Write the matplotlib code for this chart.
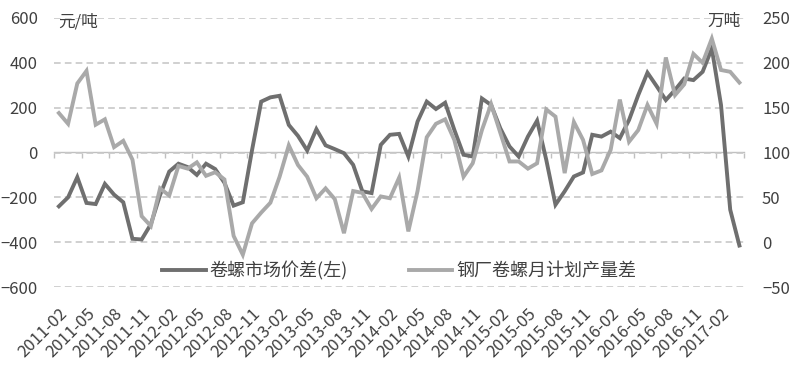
import numpy as np
import pandas as pd
import matplotlib
matplotlib.use("Agg")
import matplotlib.pyplot as plt

plt.rcParams['font.family'] = ['Noto Sans CJK SC', 'DejaVu Sans']

# monthly data, 2011-02 .. 2017-04
months = pd.date_range('2011-02', periods=75, freq='MS').strftime('%Y-%m').tolist()

# 卷螺市场价差 (元/吨, left axis)
spread = [-240, -200, -110, -225, -230, -140, -188, -222, -385, -388,
          -320, -190, -85, -50, -65, -100, -50, -74, -135, -237,
          -222, 10, 227, 246, 253, 123, 74, 9, 104, 32,
          15, -3, -55, -173, -181, 34, 79, 83, -18, 138,
          227, 194, 222, 101, -10, -18, 241, 212, 108, 27,
          -18, 71, 142, -33, -233, -173, -107, -89, 79, 71,
          93, 64, 145, 256, 356, 296, 234, 279, 330, 323,
          360, 464, 212, -255, -415]

# 钢厂卷螺月计划产量差 (万吨, right axis)
output_gap = [144, 132, 177, 191, 131, 137, 106, 113, 92, 29,
              18, 60, 52, 85, 82, 89, 74, 78, 70, 7,
              -14, 21, 33, 44, 73, 108, 86, 73, 49, 60,
              48, 10, 57, 55, 37, 51, 49, 72, 12, 57,
              117, 132, 137, 114, 73, 88, 125, 154, 122, 90,
              90, 82, 88, 148, 140, 77, 134, 114, 76, 80,
              103, 159, 112, 125, 153, 132, 206, 164, 176, 210,
              200, 227, 192, 190, 178]

left_ticks = list(range(-600, 601, 200))
right_ticks = list(range(-50, 251, 50))

dark = '#6f6f6f'
light = '#a9a9a9'
txt = '#404040'
axis_grey = '#c0c0c0'

fig = plt.figure(figsize=(7.94, 3.67), dpi=100)
ax = fig.add_axes([54.3 / 794, 1 - 287 / 367, (744 - 54.3) / 794, 269 / 367])
x = np.arange(len(months))

ax.set_xlim(-0.5, len(months) - 0.5)
ax.set_ylim(-600, 600)
ax.set_yticks(left_ticks)
ax.yaxis.grid(True, linestyle=(0, (4, 2.5)), color='#c8c8c8', linewidth=1.2)
ax.set_axisbelow(True)
for s in ax.spines.values():
    s.set_visible(False)
ax.tick_params(axis='y', length=0, pad=12, labelsize=12, labelcolor=txt)

ax.set_xticks(x[::3])
ax.set_xticklabels(months[::3], rotation=45, ha='right', rotation_mode='anchor',
                   fontsize=12, color=txt)
ax.tick_params(axis='x', length=0, pad=13)

# zero axis with boundary tick marks
zero = ax.secondary_xaxis(0.5)
zero.set_xticks(np.arange(-0.5, len(months), 3))
zero.set_xticklabels([])
zero.xaxis.set_ticks_position('bottom')
zero.tick_params(axis='x', direction='out', length=3.5, color=axis_grey, width=1)
for s in zero.spines.values():
    s.set_color(axis_grey)
    s.set_linewidth(1)

l1, = ax.plot(x, spread, color=dark, linewidth=2.8, solid_joinstyle='miter',
              label='卷螺市场价差(左)', zorder=3)

ax2 = ax.twinx()
ax2.set_ylim(-50, 250)
ax2.set_yticks(right_ticks)
for s in ax2.spines.values():
    s.set_visible(False)
ax2.tick_params(axis='y', length=0, pad=13, labelsize=12, labelcolor=txt)
l2, = ax2.plot(x, output_gap, color=light, linewidth=2.8, solid_joinstyle='miter',
               label='钢厂卷螺月计划产量差', zorder=3)

ax2.legend(handles=[l1, l2], loc='center', bbox_to_anchor=(0.5, 0.06), ncol=2,
           frameon=False, fontsize=13, handlelength=2.4, handletextpad=0.2,
           columnspacing=3.4, labelcolor=txt)

fig.text(58 / 794, 1 - 22 / 367, '元/吨', fontsize=12, color=txt, va='center')
fig.text(741 / 794, 1 - 21 / 367, '万吨', fontsize=12, color=txt, va='center', ha='right')

fig.savefig('out.png', dpi=100)
